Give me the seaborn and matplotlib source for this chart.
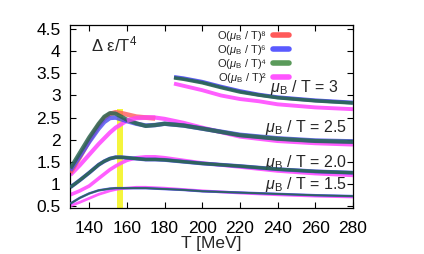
import matplotlib
matplotlib.use("Agg")
import matplotlib.pyplot as plt
from matplotlib.lines import Line2D
import seaborn as sns

# temperature grids (MeV)
T_low = [130, 135, 140, 145, 148, 151, 154, 157, 160, 165, 170, 175, 180, 190, 200, 220, 240, 260, 280]
T_red = [130, 135, 140, 145, 148, 151, 154, 157, 160, 165, 170, 175]
T_high = [185, 190, 200, 210, 220, 230, 240, 260, 280]

# mu_B/T = 1.5
mu15_hi = [0.55, 0.68, 0.78, 0.85, 0.87, 0.89, 0.90, 0.90, 0.90, 0.90, 0.90, 0.89, 0.88, 0.86, 0.83, 0.80, 0.77, 0.74, 0.72]
mu15_o2 = [0.50, 0.58, 0.67, 0.76, 0.80, 0.84, 0.87, 0.89, 0.90, 0.92, 0.92, 0.91, 0.90, 0.87, 0.84, 0.79, 0.75, 0.72, 0.70]

# mu_B/T = 2.0
mu20_hi = [0.92, 1.08, 1.25, 1.43, 1.51, 1.57, 1.60, 1.60, 1.59, 1.57, 1.55, 1.55, 1.54, 1.50, 1.46, 1.40, 1.33, 1.28, 1.25]
mu20_o2 = [0.75, 0.84, 0.95, 1.12, 1.22, 1.32, 1.40, 1.47, 1.53, 1.59, 1.61, 1.61, 1.59, 1.53, 1.47, 1.38, 1.29, 1.23, 1.19]

# mu_B/T = 2.5
mu25_o8 = [1.25, 1.60, 1.98, 2.32, 2.48, 2.58, 2.62, 2.60, 2.57, 2.52, 2.50, 2.48]
mu25_o6 = [1.30, 1.62, 1.95, 2.25, 2.40, 2.49, 2.50, 2.46, 2.42, 2.36, 2.32, 2.33, 2.36, 2.32, 2.25, 2.11, 2.03, 1.98, 1.96]
mu25_o4 = [1.35, 1.70, 2.05, 2.36, 2.52, 2.60, 2.59, 2.52, 2.45, 2.37, 2.31, 2.33, 2.36, 2.32, 2.25, 2.10, 2.02, 1.97, 1.95]
mu25_o2 = [1.20, 1.42, 1.66, 1.90, 2.03, 2.16, 2.27, 2.35, 2.43, 2.49, 2.50, 2.50, 2.47, 2.38, 2.27, 2.07, 1.97, 1.92, 1.89]

# mu_B/T = 3
mu30_o6 = [3.42, 3.39, 3.31, 3.20, 3.10, 3.02, 2.96, 2.89, 2.84]
mu30_o4 = [3.40, 3.37, 3.29, 3.18, 3.08, 3.01, 2.95, 2.88, 2.83]
mu30_o2 = [3.27, 3.22, 3.12, 3.00, 2.92, 2.87, 2.80, 2.73, 2.69]

Tc_band = [155, 158]
Tc_top = 2.7

orders = ["⁸", "⁶", "⁴", "²"]
legend_colors = ["#ff5a5a", "#5a5aff", "#5a9a5a", "#ff55ff"]
curve_labels = ["3", "2.5", "2.0", "1.5"]

RED, BLUE, DARK, MAG = "#ff5a5a", "#4a4af0", "#2a6650", "#ff4cff"

sns.set_theme(style="ticks")
plt.rcParams["font.family"] = ["Liberation Sans", "DejaVu Sans"]
plt.rcParams["mathtext.fontset"] = "custom"
plt.rcParams["mathtext.rm"] = "Liberation Sans"
plt.rcParams["mathtext.it"] = "Liberation Sans:italic"

fig = plt.figure(figsize=(4.24, 2.54), dpi=100)
ax = fig.add_axes([0.166, 0.181, 0.6665, 0.721])

ax.fill_betweenx([0.45, Tc_top], Tc_band[0], Tc_band[1], color="#f5f53c", lw=0, zorder=1)


def band(x, y, color, lw, alpha=0.9, z=2):
    sns.lineplot(x=x, y=y, color=color, linewidth=lw, alpha=alpha, ax=ax,
                 zorder=z, solid_capstyle="butt", solid_joinstyle="round")


# 1.5
band(T_low, mu15_o2, MAG, 2.0, z=2)
band(T_low, mu15_hi, BLUE, 1.8, z=3)
band(T_low, mu15_hi, DARK, 1.3, z=4)
# 2.0
band(T_low, mu20_o2, MAG, 2.6, z=2)
band(T_low, mu20_hi, BLUE, 2.8, z=3)
band(T_low, mu20_hi, DARK, 2.4, z=4)
# 2.5
band(T_low, mu25_o2, MAG, 3.0, z=2)
band(T_red, mu25_o8, RED, 3.4, alpha=0.8, z=3)
band(T_low, mu25_o6, BLUE, 3.2, alpha=0.8, z=4)
band(T_low, mu25_o4, DARK, 3.0, alpha=0.85, z=5)
band(T_red[8:], mu25_o2[8:12], MAG, 3.4, alpha=0.7, z=6)
# 3
band(T_high, mu30_o2, MAG, 2.8, z=2)
band(T_high, mu30_o6, BLUE, 2.8, z=3)
band(T_high, mu30_o4, DARK, 2.6, alpha=0.9, z=4)

ax.set_xlim(130, 280)
ax.set_ylim(0.45, 4.6)
ax.set_xticks(range(140, 281, 20))
yt = [0.5 * i for i in range(1, 10)]
ax.set_yticks(yt)
ax.set_yticklabels([f"{v:g}" for v in yt])
ax.tick_params(direction="in", top=True, right=True, length=4, width=0.8,
               labelsize=12.5, colors="black")
ax.tick_params(axis="x", pad=9.5)
ax.tick_params(axis="y", pad=7)
for s in ax.spines.values():
    s.set_linewidth(0.9)
    s.set_color("black")
ax.set_xlabel("T [MeV]", fontsize=12.5, labelpad=0)
ax.set_ylabel("")

ax.text(141.2, 3.99, "Δ ε/T$^4$", fontsize=12)

mu = r"$\mu_{\rm B}$ / T = "
ax.text(272.3, 3.08, mu + curve_labels[0], fontsize=11.5, ha="right", va="baseline")
ax.text(276.7, 2.17, mu + curve_labels[1], fontsize=11.5, ha="right", va="baseline")
ax.text(276.7, 1.38, mu + curve_labels[2], fontsize=11.5, ha="right", va="baseline")
ax.text(276.7, 0.88, mu + curve_labels[3], fontsize=11.5, ha="right", va="baseline")

handles = [Line2D([], [], color=c, lw=4) for c in legend_colors]
labels = [r"O($\mu_{\rm B}$ / T)" + o for o in orders]
ax.legend(handles, labels, loc="upper left", bbox_to_anchor=(0.49, 1.02),
          frameon=False, markerfirst=False, fontsize=8, handlelength=1.4,
          handletextpad=0.6, labelspacing=0.0, borderpad=0.2)

fig.savefig("out.png", dpi=100)
